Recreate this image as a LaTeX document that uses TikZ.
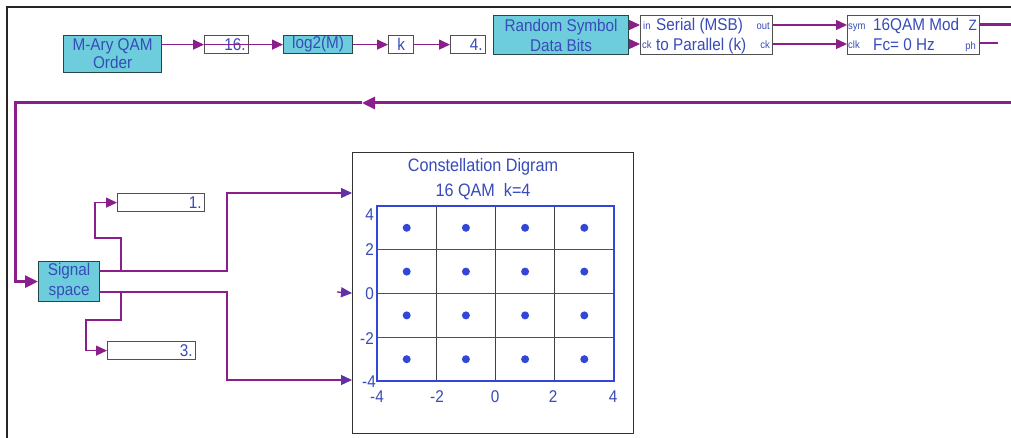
\documentclass[tikz,border=0pt]{standalone}
\usepackage{fontspec}
\setmainfont{Liberation Sans}[FakeStretch=0.9]
\usetikzlibrary{arrows.meta}
\definecolor{wirec}{RGB}{140,30,140}
\definecolor{cyanf}{RGB}{110,205,220}
\definecolor{cbord}{RGB}{40,70,70}
\definecolor{wbord}{RGB}{80,80,80}
\definecolor{txtc}{RGB}{55,75,185}
\definecolor{plotc}{RGB}{50,70,215}
\definecolor{tipc}{RGB}{95,50,170}
\newcommand{\fsA}{\fontsize{17}{18}\selectfont}
\newcommand{\fsB}{\fontsize{17}{20}\selectfont}
\newcommand{\fsC}{\fontsize{18}{19}\selectfont}
\newcommand{\fsP}{\fontsize{10.5}{11}\selectfont}
\newcommand{\fsT}{\fontsize{17}{18}\selectfont}
\begin{document}
\begin{tikzpicture}[x=1pt,y=-1pt,
  wire/.style={draw=wirec, line width=1.3pt},
  thickwire/.style={draw=wirec, line width=3pt},
  tip/.style={-{Triangle[length=11pt,width=10pt]}},
  bigtip/.style={-{Triangle[length=13pt,width=12pt]}},
  bluetip/.style={-{Triangle[length=11pt,width=10pt,fill=tipc,color=tipc]}},
  cbox/.style={draw=cbord, fill=cyanf, line width=1.2pt, inner sep=0pt, anchor=north west, align=center, text=txtc},
  wbox/.style={draw=wbord, fill=white, line width=1.2pt, inner sep=0pt, anchor=north west, text=txtc, font=\fsA},
  rbox/.style={wbox, inner xsep=3pt, align=right},
  lbl/.style={inner sep=0pt, text=txtc, font=\fsA},
  port/.style={inner sep=0pt, text=txtc, font=\fsP},
  tick/.style={inner sep=0pt, text=txtc, font=\fsT}]
\useasboundingbox (0,0) rectangle (1011,438);
\fill[white] (0,0) rectangle (1011,438);
% frame
\draw[black!85, line width=1.2pt] (7,438) -- (7,7) -- (1011,7);

% top row
\node[cbox, font=\fsA, minimum width=98pt, minimum height=37pt] (mary) at (63,35) {M-Ary QAM\\Order};
\node[rbox, minimum width=44pt, minimum height=18pt, text width=38pt] (n16) at (204,35) {16.};
\node[cbox, font=\fsA, minimum width=69pt, minimum height=18pt] (log) at (283,35) {log2(M)};
\node[wbox, minimum width=25pt, minimum height=18pt] (k) at (388,35) {k};
\node[rbox, minimum width=35pt, minimum height=18pt, text width=29pt] (n4) at (450,35) {4.};

\draw[wire,tip] (mary.east |- n16.west) -- (n16.west);
\draw[wire,tip] (n16.west) -- (log.west);
\draw[wire,tip] (log.east) -- (k.west);
\draw[wire,tip] (k.east) -- (n4.west);

% random symbol
\node[cbox, font=\fsB, minimum width=135pt, minimum height=39pt] (rnd) at (493,15) {Random Symbol\\Data Bits};
\node[wbox, minimum width=132pt, minimum height=39pt] (sp) at (640,15) {};
\node[lbl, anchor=base west] (sp1) at (656,31) {Serial (MSB)};
\node[lbl, anchor=base west] (sp2) at (656,51) {to Parallel (k)};
\node[port, anchor=base west] (spin) at (643,30) {in};
\node[port, anchor=base west] (spck) at (642,49) {ck};
\node[port, anchor=base east] (spout) at (770,30) {out};
\node[port, anchor=base east] (spck2) at (770,49) {ck};

\node[wbox, minimum width=132pt, minimum height=39pt] (qam) at (847,15) {};
\node[lbl, anchor=base west] (q1) at (873,31) {16QAM Mod};
\node[lbl, anchor=base west] (q2) at (873,51) {Fc= 0 Hz};
\node[port, anchor=base west] (qsym) at (848,30) {sym};
\node[port, anchor=base west] (qclk) at (848,49) {clk};
\node[lbl, anchor=base east, font=\fontsize{15}{16}\selectfont] (qz) at (977,31) {Z};
\node[port, anchor=base east] (qph) at (976,50) {ph};

\coordinate (spA) at (640,25);
\coordinate (spB) at (640,44);
\coordinate (qA) at (847,25);
\coordinate (qB) at (847,44);
\draw[wire,tip] (rnd.east |- spA) -- (spA);
\draw[wire,tip] (rnd.east |- spB) -- (spB);
\draw[wire,tip] (sp.east |- qA) -- (qA);
\draw[wire,tip] (sp.east |- qB) -- (qB);

\coordinate (zR) at (1011,25);
\coordinate (phR) at (998,43);
\draw[thickwire] (qam.east |- zR) -- (zR);
\draw[wire] (qam.east |- phR) -- (phR);

% feedback
\node[cbox, font=\fsB, minimum width=61pt, minimum height=40pt] (sig) at (38,261) {Signal\\space};
\coordinate (fbR) at (1011,103);
\coordinate (fbM) at (362,103);
\coordinate (fbL) at (15,103);
\draw[thickwire,bigtip] (fbR) -- (fbM);
\draw[thickwire,bigtip] (fbM) -- (fbL) |- (sig.west);

% outputs
\node[rbox, minimum width=87pt, minimum height=18pt, text width=81pt] (b1) at (117,193) {1.};
\node[rbox, minimum width=88pt, minimum height=18pt, text width=82pt] (b3) at (107,341) {3.};

\node[draw=black!80, line width=1.2pt, fill=white, minimum width=281pt, minimum height=281pt, inner sep=0pt, anchor=north west] (con) at (352,152) {};
\node[lbl, font=\fsC] (t1) at (483,167) {Constellation Digram};
\node[lbl, font=\fsC] (t2) at (483,192) {16 QAM\ \ k=4};

\coordinate (so1) at (99,271);
\coordinate (so2) at (99,292);
\coordinate (j1) at (121,271);
\coordinate (j2) at (121,292);
\coordinate (ci1) at (352,193);
\coordinate (ci3) at (352,380);
\coordinate (stub) at (337,292);
\draw[wire,bluetip] (so1) -- (227,271) -- (227,193) -- (ci1);
\draw[wire,bluetip] (so2) -- (227,292) -- (227,380) -- (ci3);
\draw[wire,bluetip] (stub) -- (con.west);
\draw[wire,tip] (j1) -- (121,238) -- (95,238) |- (b1.west);
\draw[wire,tip] (j2) -- (121,320) -- (86,320) |- (b3.west);

% plot
\foreach \u in {-2,0,2}
  \draw[black!75, line width=1.2pt] ({495.5+29.6*\u},205.9) -- ({495.5+29.6*\u},381.1);
\foreach \v in {-2,0,2}
  \draw[plotc, line width=1.5pt] (377.1,{293.5-21.9*\v}) -- (613.9,{293.5-21.9*\v});
\draw[plotc, line width=1.5pt] (377.1,205.9) rectangle (613.9,381.1);
\foreach \u in {-3,-1,1,3}
  \foreach \v in {-3,-1,1,3}
    \fill[plotc] ({495.5+29.6*\u},{293.5-21.9*\v}) circle (4pt);
\node[tick, anchor=east] (y4) at (374,215) {4};
\node[tick, anchor=east] (y2) at (374,250) {2};
\node[tick, anchor=east] (y0) at (374,294) {0};
\node[tick, anchor=east] (ym2) at (374,339) {-2};
\node[tick, anchor=east] (ym4) at (376,382) {-4};
\node[tick] (xm4) at (377,397) {-4};
\node[tick] (xm2) at (437,397) {-2};
\node[tick] (x0) at (495,397) {0};
\node[tick] (x2) at (553,397) {2};
\node[tick] (x4) at (613,397) {4};
\end{tikzpicture}
\end{document}
